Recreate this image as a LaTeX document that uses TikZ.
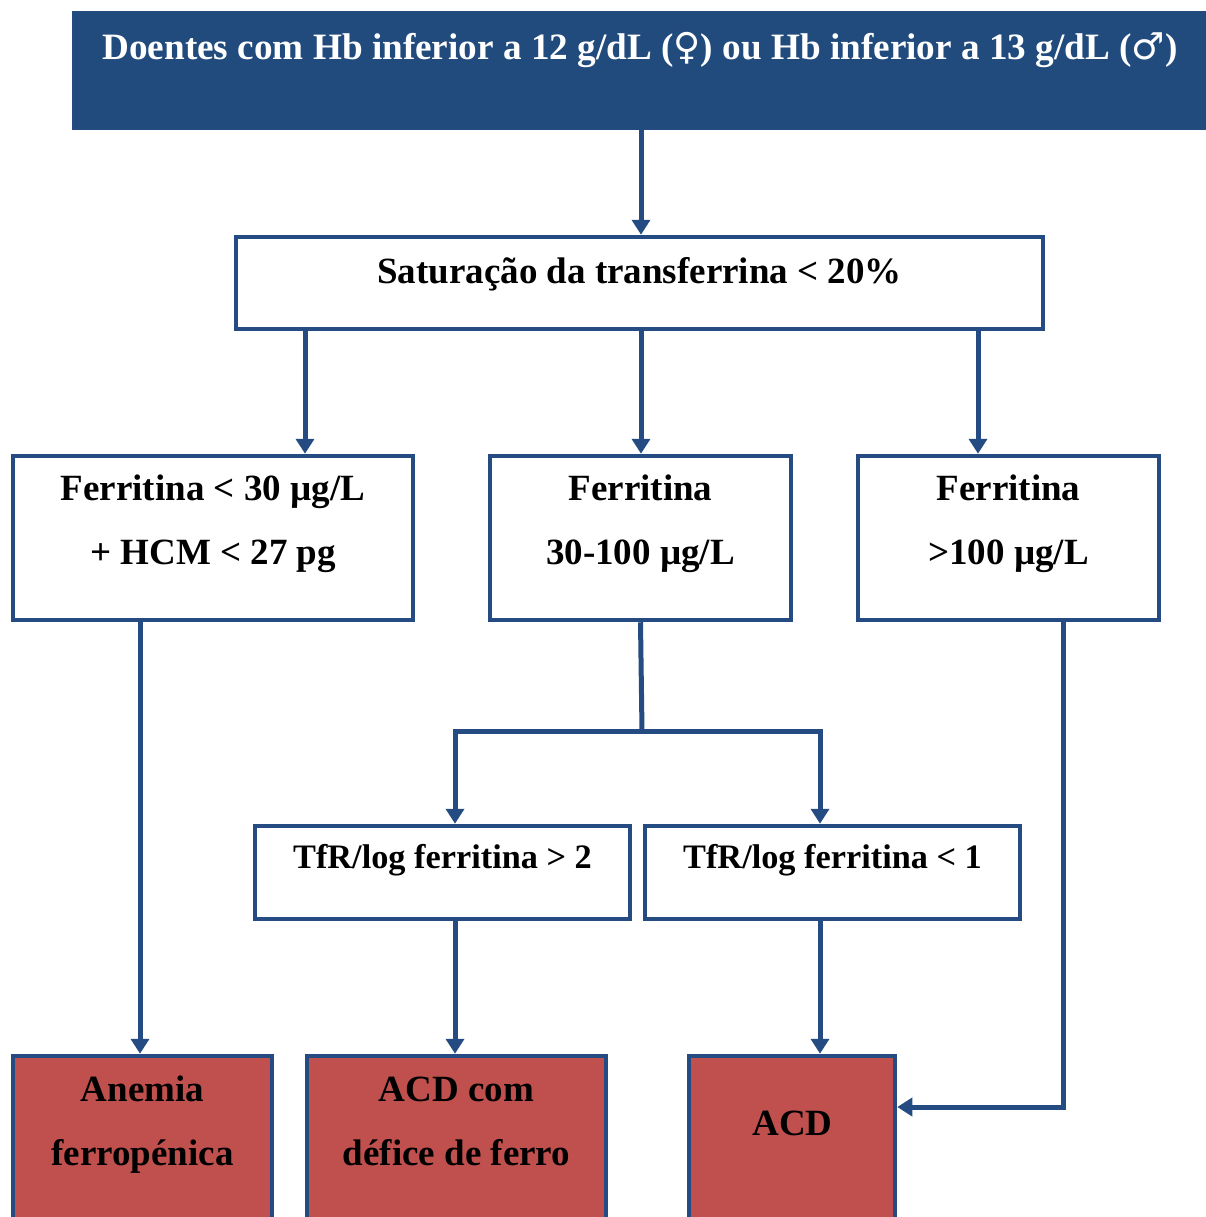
\documentclass[tikz,border=0pt]{standalone}
\usepackage{fontspec}
\setmainfont{Liberation Serif}
\newfontfamily\gendersym{DejaVu Sans}
\usetikzlibrary{arrows.meta}
\definecolor{bannerblue}{RGB}{33,74,125}
\definecolor{lineblue}{RGB}{36,76,130}
\definecolor{resultred}{RGB}{192,80,77}
\begin{document}
\begin{tikzpicture}[x=1pt, y=-1pt,
  box/.style={rectangle, draw=lineblue, line width=4.5pt, fill=white},
  result/.style={box, fill=resultred},
  txt/.style={inner sep=0pt, outer sep=0pt, anchor=base, align=flush center,
    font=\bfseries\fontsize{37}{64.5}\selectfont},
  link/.style={draw=lineblue, line width=5pt},
  flow/.style={link, -{Triangle[width=18pt,length=15pt]}},
]
\useasboundingbox (0,0) rectangle (1205,1217);

% boxes
\node[rectangle, draw=lineblue, line width=1pt, fill=bannerblue,
      minimum width=1160pt, minimum height=118pt] (top) at (652,71) {};
\node[box, minimum width=807pt, minimum height=92pt] (sat) at (639.5,283) {};
\node[box, minimum width=400pt, minimum height=164pt] (f1) at (213,538) {};
\node[box, minimum width=301pt, minimum height=164pt] (f2) at (640.5,538) {};
\node[box, minimum width=301pt, minimum height=164pt] (f3) at (1008.5,538) {};
\node[box, minimum width=375pt, minimum height=93pt] (t1) at (442.5,872.5) {};
\node[box, minimum width=375pt, minimum height=93pt] (t2) at (832.5,872.5) {};
\node[result, minimum width=259pt, minimum height=184pt] (r1) at (142.5,1148) {};
\node[result, minimum width=299pt, minimum height=184pt] (r2) at (456.5,1148) {};
\node[result, minimum width=206pt, minimum height=184pt] (r3) at (792,1148) {};

% texts
\node[txt, text=white, font=\bfseries\fontsize{37.2}{44}\selectfont] (title) at (640,60)
  {Doentes com Hb inferior a 12 g/dL ({\gendersym\mdseries ♀}) ou Hb inferior a 13 g/dL ({\gendersym\mdseries ♂})};
\node[txt] (sat-t) at (639.5,283) {Saturação da transferrina < 20\%};
\node[txt, text width=400pt] (f1-t) at (213,500) {Ferritina < 30 µg/L\\+ HCM < 27 pg};
\node[txt, text width=301pt] (f2-t) at (640.5,500) {Ferritina\\30-100 µg/L};
\node[txt, text width=301pt] (f3-t) at (1008.5,500) {Ferritina\\>100 µg/L};
\node[txt, font=\bfseries\fontsize{34.3}{40}\selectfont] (t1-t) at (442.5,868) {TfR/log ferritina > 2};
\node[txt, font=\bfseries\fontsize{34.3}{40}\selectfont] (t2-t) at (832.5,868) {TfR/log ferritina < 1};
\node[txt, text width=259pt] (r1-t) at (142.5,1101) {Anemia\\ferropénica};
\node[txt, text width=299pt] (r2-t) at (456.5,1101) {ACD com\\défice de ferro};
\node[txt] (r3-t) at (792.5,1135) {ACD};

% connectors
\coordinate (c0) at ([xshift=1.5pt]sat.north);
\draw[flow] (c0 |- top.south) -- (c0);

\coordinate (c1) at ([xshift=-334.5pt]sat.south);
\coordinate (c2) at ([xshift=1.5pt]sat.south);
\coordinate (c3) at ([xshift=338.5pt]sat.south);
\draw[flow] (c1) -- (c1 |- f1.north);
\draw[flow] (c2) -- (c2 |- f2.north);
\draw[flow] (c3) -- (c3 |- f3.north);

\coordinate (split) at (642,731);
\draw[link] (f2.south) -- (split);
\draw[flow] (split) -| ([xshift=12.5pt]t1.north);
\draw[flow] (split) -| ([xshift=-12.5pt]t2.north);

\coordinate (d1) at ([xshift=-73pt]f1.south);
\draw[flow] (d1) -- (d1 |- r1.north);
\coordinate (d2) at ([xshift=12.5pt]t1.south);
\draw[flow] (d2) -- (d2 |- r2.north);
\coordinate (d3) at ([xshift=-12.5pt]t2.south);
\draw[flow] (d3) -- (d3 |- r3.north);

\coordinate (d4) at ([xshift=54.5pt]f3.south);
\draw[flow] (d4) |- ([yshift=41pt]r3.east);
\end{tikzpicture}
\end{document}
